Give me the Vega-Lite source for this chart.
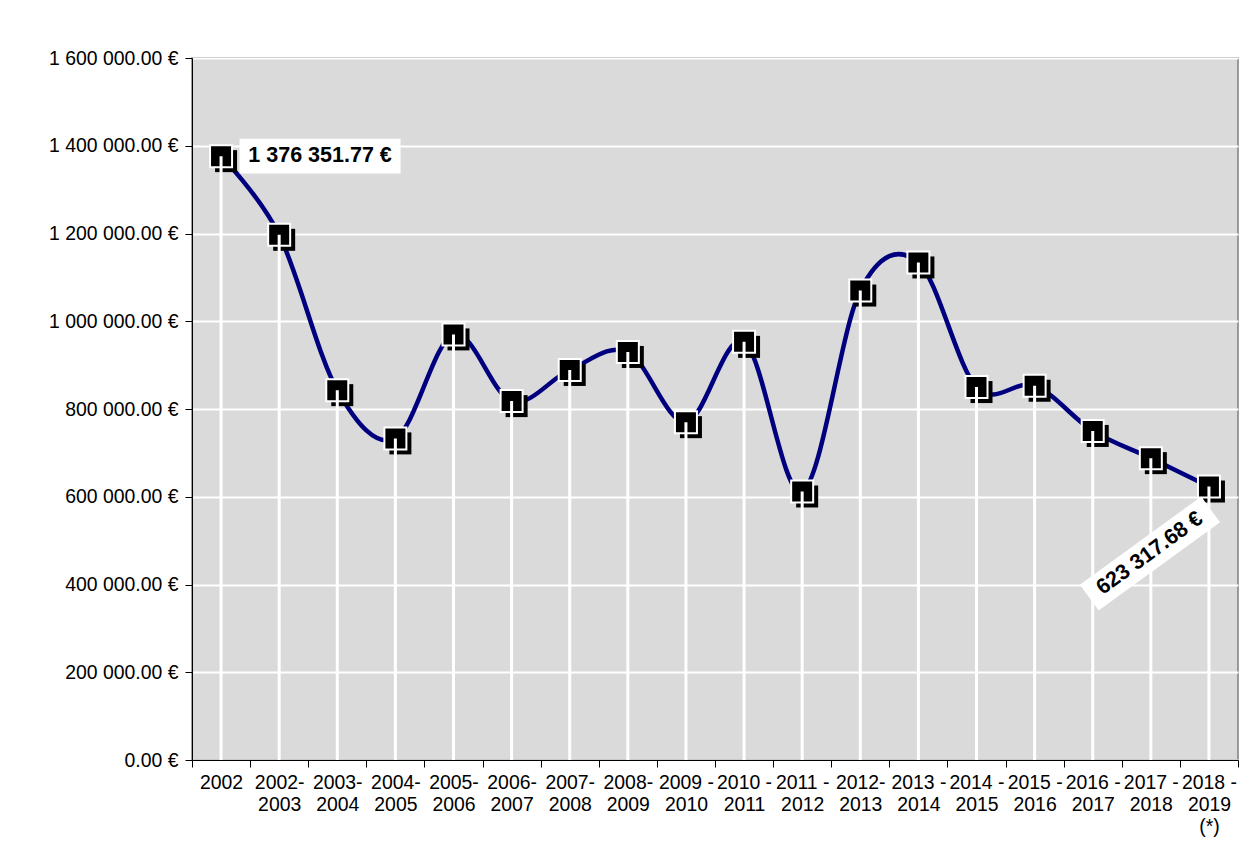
{
  "$schema": "https://vega.github.io/schema/vega-lite/v6.json",
  "width": 1046,
  "height": 702,
  "autosize": {"type": "none"},
  "padding": {"left": 192, "top": 58, "right": 4, "bottom": 86},
  "background": "white",
  "config": {
    "locale": {"number": {"decimal": ".", "thousands": " ", "grouping": [3], "currency": ["", " €"]}},
    "font": "Liberation Sans",
    "view": {"fill": "#dadada", "stroke": "#7f7f7f", "strokeWidth": 1.5}
  },
  "data": {
    "values": [
      {"period": "2002", "amount": 1376351.77},
      {"period": "2002-2003", "amount": 1197000},
      {"period": "2003-2004", "amount": 843000},
      {"period": "2004-2005", "amount": 733000},
      {"period": "2005-2006", "amount": 970000},
      {"period": "2006-2007", "amount": 818000},
      {"period": "2007-2008", "amount": 889000},
      {"period": "2008-2009", "amount": 930000},
      {"period": "2009 - 2010", "amount": 770000},
      {"period": "2010 - 2011", "amount": 953000},
      {"period": "2011 - 2012", "amount": 612000},
      {"period": "2012-2013", "amount": 1070000},
      {"period": "2013 - 2014", "amount": 1134000},
      {"period": "2014 - 2015", "amount": 850000},
      {"period": "2015 - 2016", "amount": 853000},
      {"period": "2016 - 2017", "amount": 750000},
      {"period": "2017 - 2018", "amount": 688000},
      {"period": "2018 - 2019 (*)", "amount": 623317.68}
    ]
  },
  "encoding": {
    "x": {
      "field": "period",
      "type": "nominal",
      "sort": null,
      "scale": {"type": "band", "paddingInner": 0, "paddingOuter": 0},
      "axis": {
        "title": null,
        "labelAngle": 0,
        "tickBand": "extent",
        "labelExpr": "split(replace(replace(datum.label, /- ?/, '-|'), ' (', '|('), '|')",
        "labelFontSize": 19.4,
        "labelColor": "black",
        "labelLineHeight": 22,
        "labelBaseline": "top",
        "labelPadding": 6,
        "tickColor": "black",
        "tickSize": 7,
        "domainColor": "black",
        "grid": false
      }
    },
    "y": {
      "field": "amount",
      "type": "quantitative",
      "scale": {"domain": [0, 1600000]},
      "axis": {
        "title": null,
        "values": [0, 200000, 400000, 600000, 800000, 1000000, 1200000, 1400000, 1600000],
        "format": "$,.2f",
        "labelFontSize": 19.4,
        "labelColor": "black",
        "labelPadding": 7,
        "tickColor": "black",
        "tickSize": 7,
        "domainColor": "black",
        "grid": true,
        "gridColor": "white",
        "gridWidth": 2,
        "gridOpacity": 1
      }
    }
  },
  "layer": [
    {"mark": {"type": "line", "color": "#00007f", "strokeWidth": 4.5, "interpolate": "cardinal"}},
    {"mark": {"type": "point", "shape": "square", "size": 484, "filled": true, "fill": "black", "opacity": 1, "xOffset": 5, "yOffset": 5}},
    {"mark": {"type": "point", "shape": "square", "size": 484, "filled": true, "fill": "black", "stroke": "white", "strokeWidth": 2, "opacity": 1}},
    {"mark": {"type": "rule", "color": "white", "strokeWidth": 3}, "encoding": {"y2": {"datum": 0}}},
    {
      "transform": [{"filter": "datum.period == '2002'"}],
      "mark": {"type": "point", "shape": "M-1,-0.217L1,-0.217L1,0.217L-1,0.217Z", "size": 25921, "filled": true, "fill": "white", "opacity": 1, "xOffset": 99}
    },
    {
      "transform": [{"filter": "datum.period == '2002'"}],
      "mark": {"type": "text", "fontSize": 21.5, "fontWeight": "bold", "color": "black", "align": "center", "baseline": "middle", "xOffset": 99},
      "encoding": {"text": {"field": "amount", "type": "quantitative", "format": "$,.2f"}}
    },
    {
      "transform": [{"filter": "datum.period == '2018 - 2019 (*)'"}],
      "mark": {"type": "point", "shape": "M-1,-0.213L1,-0.213L1,0.213L-1,0.213Z", "size": 22500, "filled": true, "fill": "white", "opacity": 1, "angle": -36, "xOffset": -59, "yOffset": 67}
    },
    {
      "transform": [{"filter": "datum.period == '2018 - 2019 (*)'"}],
      "mark": {"type": "text", "fontSize": 21.5, "fontWeight": "bold", "color": "black", "align": "center", "baseline": "middle", "angle": -36, "xOffset": -59, "yOffset": 67},
      "encoding": {"text": {"field": "amount", "type": "quantitative", "format": "$,.2f"}}
    }
  ]
}
